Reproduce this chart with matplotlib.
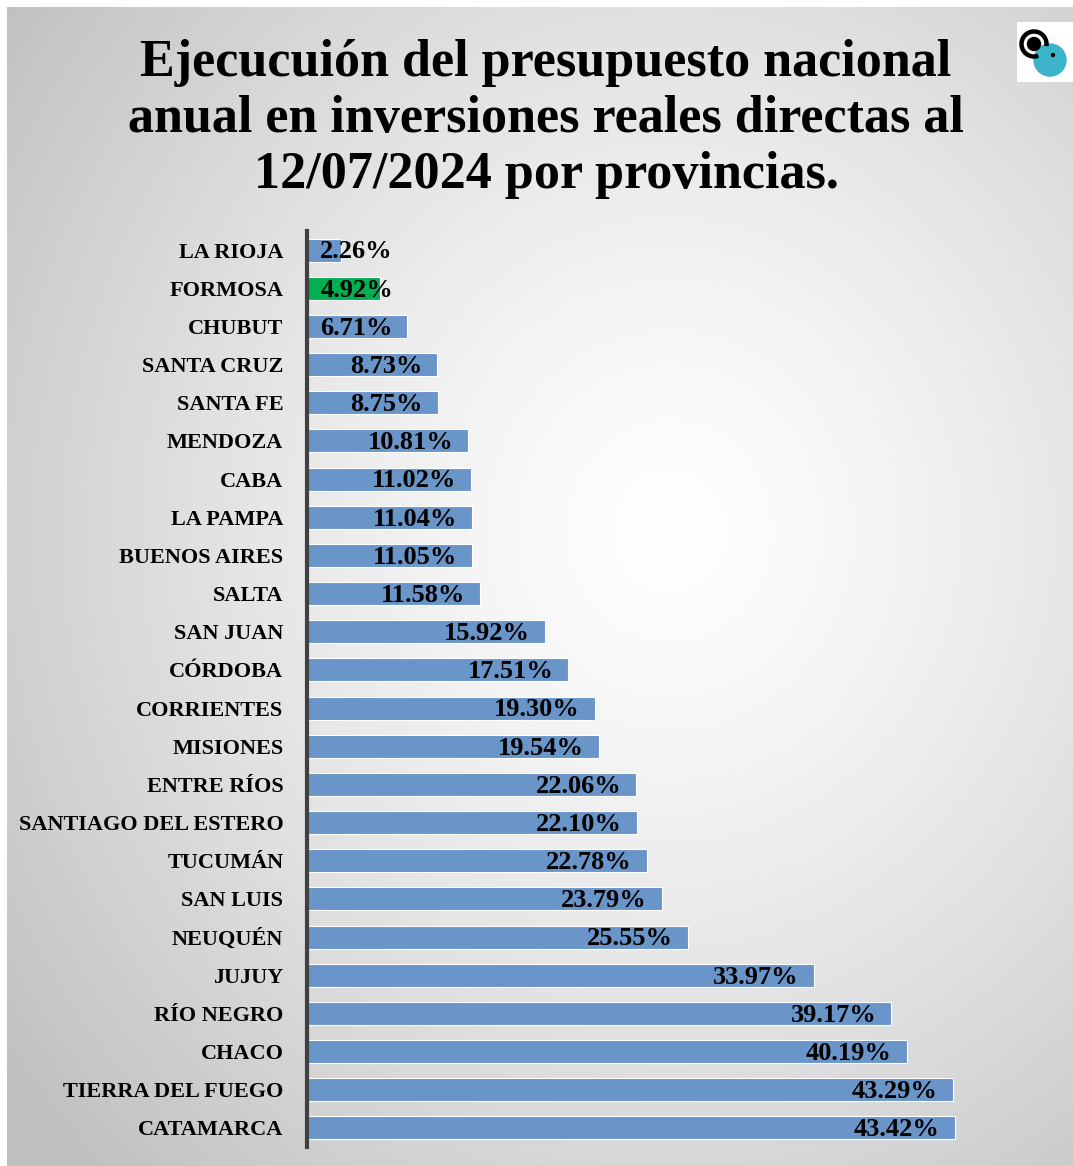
import numpy as np
import matplotlib
matplotlib.use("Agg")
import matplotlib.pyplot as plt
from matplotlib.patches import Rectangle, Circle, Arc

provincias = ["LA RIOJA", "FORMOSA", "CHUBUT", "SANTA CRUZ", "SANTA FE", "MENDOZA",
              "CABA", "LA PAMPA", "BUENOS AIRES", "SALTA", "SAN JUAN", "CÓRDOBA",
              "CORRIENTES", "MISIONES", "ENTRE RÍOS", "SANTIAGO DEL ESTERO", "TUCUMÁN",
              "SAN LUIS", "NEUQUÉN", "JUJUY", "RÍO NEGRO", "CHACO", "TIERRA DEL FUEGO",
              "CATAMARCA"]
ejecucion = [2.26, 4.92, 6.71, 8.73, 8.75, 10.81, 11.02, 11.04, 11.05, 11.58, 15.92,
             17.51, 19.30, 19.54, 22.06, 22.10, 22.78, 23.79, 25.55, 33.97, 39.17,
             40.19, 43.29, 43.42]
destacada = "FORMOSA"
titulo = "Ejecucuión del presupuesto nacional\nanual en inversiones reales directas al\n12/07/2024 por provincias."

W, H = 1073, 1166
fig = plt.figure(figsize=(W / 100, H / 100), dpi=100)
fig.patch.set_facecolor("white")

# background radial gradient
bg = fig.add_axes([7 / W, 0, 1 - 7 / W, 1 - 7 / H])
bg.set_axis_off()
ny, nx = 300, 300
yy, xx = np.mgrid[0:ny, 0:nx]
cx, cy = 0.62 * nx, 0.45 * ny
r = np.sqrt(((xx - cx) / nx) ** 2 + ((yy - cy) / ny) ** 2)
r = r / r.max()
vals = 1.0 - 0.25 * np.clip(r / 0.95, 0, 1) ** 1.3
img = np.dstack([vals, vals, vals])
bg.imshow(img, aspect="auto", extent=[0, 1, 0, 1], origin="upper", interpolation="bilinear")
bg.set_xlim(0, 1)
bg.set_ylim(0, 1)

serif = ["Liberation Serif", "DejaVu Serif"]

fig.text(546 / W, 1 - 119 / H, titulo, ha="center", va="center", fontsize=37.5,
         fontweight="bold", family=serif, linespacing=1.22)

# logo
lg = fig.add_axes([1017 / W, 1 - 82 / H, 56 / W, 60 / H])
lg.set_xlim(0, 56)
lg.set_ylim(0, 60)
lg.set_aspect("equal")
lg.set_axis_off()
lg.add_patch(Rectangle((0, 0), 56, 60, color="white"))
lg.add_patch(Circle((33, 22), 16, color="#3bb3c9"))
lg.add_patch(Arc((17, 38), 25, 25, theta1=-10, theta2=290, lw=3.2, color="black"))
lg.add_patch(Circle((17, 38), 6.5, color="black"))
lg.add_patch(Circle((36, 27), 1.5, color="black"))

# bar chart
x0, x1 = 307, 307 + 45 * 14.92
ytop, ybot = 231, 1147
ax = fig.add_axes([x0 / W, 1 - ybot / H, (x1 - x0) / W, (ybot - ytop) / H])
ax.set_facecolor("none")
y = np.arange(len(provincias))
colors = ["#00b050" if p == destacada else "#6a95c9" for p in provincias]
ax.barh(y, ejecucion, height=0.6, color=colors, edgecolor="white", linewidth=0.8)
ax.set_xlim(0, 45)
ax.set_ylim(len(provincias) - 0.5, -0.5)
ax.set_yticks(y)
ax.set_yticklabels(provincias, fontsize=16, fontweight="bold", family=serif)
ax.tick_params(axis="y", length=0, pad=17)
ax.set_xticks([])
for s in ["top", "right", "bottom"]:
    ax.spines[s].set_visible(False)
ax.spines["left"].set_color("#404040")
ax.spines["left"].set_linewidth(3)

for yi, v in zip(y, ejecucion):
    xt = max(v - 1.0, 5.76)
    ax.text(xt, yi + 0.05, f"{v:.2f}%", ha="right", va="center", fontsize=19,
            fontweight="bold", family=serif)

fig.savefig("out.png", dpi=100)
